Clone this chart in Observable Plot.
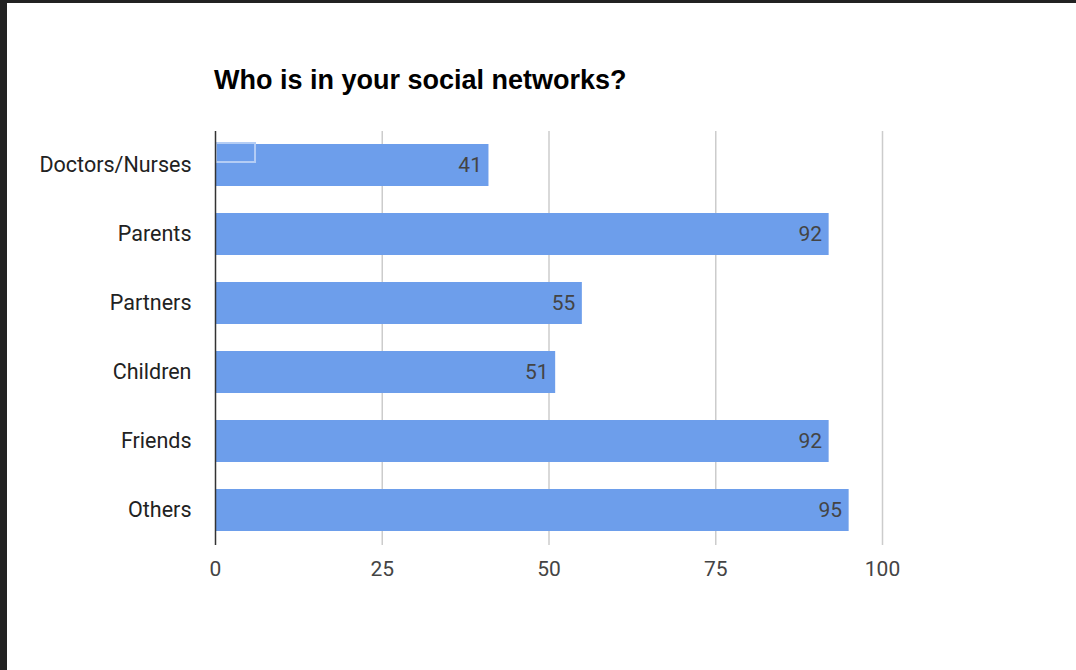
<!DOCTYPE html>
<html>
<head>
<meta charset="utf-8">
<script src="https://cdn.jsdelivr.net/npm/d3@7"></script>
<script src="https://cdn.jsdelivr.net/npm/@observablehq/plot@0.6"></script>
<style>
  html, body { margin: 0; padding: 0; background: #fff; }
  #frame { position: relative; width: 1076px; height: 670px; overflow: hidden; background: #fff; }
  #topbar { position: absolute; left: 0; top: 0; width: 1076px; height: 3px; background: #222; }
  #leftbar { position: absolute; left: 0; top: 0; width: 7px; height: 670px; background: #222; }
  #title { position: absolute; left: 214px; top: 65px; font-family: "Liberation Sans", Arial, sans-serif; font-weight: bold; font-size: 27px; line-height: 31px; color: #000; white-space: nowrap; }
  #chart { position: absolute; left: 0; top: 0; }
</style>
</head>
<body>
<div id="frame">
  <div id="chart"></div>
  <div id="topbar"></div>
  <div id="leftbar"></div>
  <div id="title">Who is in your social networks?</div>
</div>
<script>
const categories = ["Doctors/Nurses", "Parents", "Partners", "Children", "Friends", "Others"];
const values = [41, 92, 55, 51, 92, 95];
const xTicks = [0, 25, 50, 75, 100];
const gridTicks = [25, 50, 75, 100];
const highlight = [{category: "Doctors/Nurses", x1: 0, x2: 6}];

const data = categories.map((c, i) => ({category: c, value: values[i]}));

const fontFamily = "Roboto, 'Liberation Sans', Arial, sans-serif";

const chart = Plot.plot({
  width: 1076,
  height: 670,
  marginLeft: 215,
  marginRight: 194,
  marginTop: 131,
  marginBottom: 125,
  style: {fontFamily, fontSize: "21px", background: "transparent", overflow: "visible"},
  x: {domain: [0, 100], ticks: xTicks},
  y: {domain: categories, paddingInner: 0.39, paddingOuter: 0.195},
  marks: [
    Plot.ruleX(gridTicks, {stroke: "#cccccc", strokeWidth: 1.5}),
    Plot.barX(data, {x: "value", y: "category", fill: "#6d9eeb"}),
    Plot.barX(highlight, {x1: "x1", x2: "x2", y: "category", fill: "none", stroke: "#b4cdf5", strokeWidth: 2, insetTop: -1, insetBottom: 24, insetLeft: 1}),
    Plot.ruleX([0], {stroke: "#333333", strokeWidth: 1.5}),
    Plot.text(data, {x: "value", y: "category", text: d => String(d.value), textAnchor: "end", dx: -7, fill: "#444444", fontSize: 21}),
    Plot.axisX({ticks: xTicks, tickSize: 0, tickPadding: 16, label: null, fill: "#444444", fontSize: 21}),
    Plot.axisY({tickSize: 0, tickPadding: 24, label: null, fill: "#222222", fontSize: 21.5})
  ]
});
document.getElementById("chart").appendChild(chart);
</script>
</body>
</html>
